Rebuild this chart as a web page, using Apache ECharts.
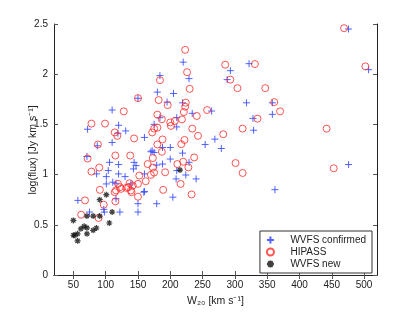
<!DOCTYPE html>
<html>
<head>
<meta charset="utf-8">
<script src="https://cdn.jsdelivr.net/npm/echarts@6/dist/echarts.min.js"></script>
<style>html,body{margin:0;padding:0;background:#fff;}#c{width:415px;height:312px;}</style>
</head>
<body>
<div id="c"></div>
<script>
const xTicks = [50,100,150,200,250,300,350,400,450,500];
const yTicks = [0,0.5,1,1.5,2,2.5];

const wvfsConfirmed = [
[476,2.45],[507,2.045],[476,1.10],[362,0.85],
[220,2.12],[293,2.035],[288,1.946],[322,2.105],[229,1.956],[205,1.808],[318,1.715],[358,1.715],[358,1.60],[328,1.56],[329,1.442],[264,1.633],[234,1.61],[219,1.715],[210,1.567],[210,1.475],[269,1.353],[254,1.30],[279,1.26],
[184,1.986],[180,1.821],[195,1.722],[110,1.643],[120,1.491],[131,1.435],[72,1.452],[119,1.412],[175,1.501],[184,1.567],
[150,1.76],[87,1.287],[110,1.32],[160,1.37],
[71,1.18],[106,1.122],[120,1.10],[144,1.122],[147,1.09],[143,1.056],[104,1.04],[120,1.007],[86,1.007],[101,0.98],[130,0.98],[111,0.924],[101,0.907],[116,0.914],[160,1.007],[170,1.228],[188,1.105],[175,1.22],[139,0.907],[160,0.832],
[219,1.214],[200,1.155],[172,1.237],[179,1.095],[210,1.04],[229,1.122],[224,0.996],[209,0.957],[240,0.957],[204,0.775],[179,0.71],
[57,0.743],[116,0.759],[150,0.71],[159,0.825],[97,0.654],[75,0.627],[98,0.627],[122,0.627],[150,0.627],[188,1.27],[200,1.27]
];

const hipass = [
[469,2.458],[502,2.078],[442,1.458],[453,1.063],
[223,2.243],[226,2.02],[230,1.854],[285,2.095],[331,2.101],[293,1.946],[304,1.861],[347,1.861],[361,1.722],[370,1.63],[335,1.557],[257,1.643],[312,1.458],[282,1.402],[234,1.458],[243,1.386],[241,1.584],[224,1.716],[223,1.676],[221,1.623],[218,1.55],[207,1.534],[200,1.52],
[184,1.94],[150,1.762],[182,1.742],[196,1.692],[128,1.63],[180,1.597],[187,1.551],[78,1.508],[99,1.508],[201,1.485],[180,1.468],[175,1.458],[114,1.42],[118,1.386],[172,1.42],
[144,1.36],[88,1.30],[115,1.19],[138,1.19],[72,1.16],[90,1.07],[78,1.03],[180,1.30],[188,1.35],[173,1.165],[165,1.105],[173,1.07],[175,1.02],[170,0.997],[152,0.99],[162,0.934],[150,0.908],[137,0.914],[132,0.868],[139,0.842],[116,0.842],[122,0.875],[91,0.848],
[187,1.227],[192,1.023],[211,1.105],[220,1.128],[228,1.072],[237,1.171],[216,0.907],[189,0.848],[233,0.802],[301,1.115],[312,1.016],[222,1.345],[217,1.303],
[119,0.908],[114,0.825],[124,0.858],[135,0.874],[142,0.891],[140,0.825],[150,0.78],[68,0.743],[97,0.70],[115,0.733],[62,0.601],[89,0.568]
];

const wvfsNew = [
[50,0.544],[56.5,0.41],[52,0.396],[50,0.396],[56.5,0.34],[61.6,0.46],[66.6,0.485],[71,0.47],[71,0.41],[71,0.587],[80.6,0.587],[90.8,0.587],[80.6,0.445],[85.7,0.468],[90.8,0.75],[101,0.80],[110,0.627],[105.6,0.518],[215,1.045]
];

const yTitle = 'log(flux) [Jy km s\u207B\u00B9]';
const xTitle = 'W\u2082\u2080 [km s\u207B\u00B9]';

const FONT = 'Liberation Sans';
const chart = echarts.init(document.getElementById('c'), null, {renderer:'canvas'});
const tickStyle = {show:true, inside:true, length:4, lineStyle:{color:'#555', width:1}};
const lineStyle = {show:true, lineStyle:{color:'#222', width:1}};
const labelStyle = {color:'#222', fontFamily:FONT, fontSize:10};

chart.setOption({
  animation:false,
  backgroundColor:'#fff',
  grid:{left:54, right:38, top:24, bottom:35},
  graphic:[{
    type:'text', x:33, y:150, rotation:Math.PI/2,
    style:{text:yTitle, fill:'#222', font:'10.5px "Liberation Sans"', align:'center', verticalAlign:'middle'}
  }],
  legend:{
    orient:'vertical', right:43, bottom:39,
    borderColor:'#333', borderWidth:1, backgroundColor:'#fff',
    padding:[3,6,3,6], itemGap:0, itemWidth:30, itemHeight:7,
    textStyle:{color:'#222', fontFamily:FONT, fontSize:10, lineHeight:12},
    data:['WVFS confirmed','HIPASS','WVFS new']
  },
  xAxis:[{
    type:'value', min:20, max:520,
    name:xTitle, nameLocation:'middle', nameGap:21,
    nameTextStyle:{color:'#222', fontFamily:FONT, fontSize:10.5},
    axisLine:lineStyle,
    axisTick:Object.assign({customValues:xTicks}, tickStyle),
    axisLabel:Object.assign({customValues:xTicks, margin:5}, labelStyle),
    splitLine:{show:false}
  },{
    type:'value', min:20, max:520, position:'top',
    axisLine:lineStyle,
    axisTick:Object.assign({customValues:xTicks}, tickStyle),
    axisLabel:{show:false}, splitLine:{show:false}
  }],
  yAxis:[{
    type:'value', min:0, max:2.5, interval:0.5,
    axisLine:lineStyle, axisTick:tickStyle,
    axisLabel:Object.assign({margin:6}, labelStyle),
    splitLine:{show:false}
  },{
    type:'value', min:0, max:2.5, interval:0.5, position:'right',
    axisLine:lineStyle, axisTick:tickStyle,
    axisLabel:{show:false}, splitLine:{show:false}
  }],
  series:[{
    name:'WVFS confirmed', type:'scatter', data:wvfsConfirmed,
    symbol:'path://M0,5L10,5M5,0L5,10', symbolSize:7,
    itemStyle:{color:'transparent', borderColor:'#3f52ff', borderWidth:1, opacity:0.9}
  },{
    name:'HIPASS', type:'scatter', data:hipass,
    symbol:'circle', symbolSize:7,
    itemStyle:{color:'transparent', borderColor:'#ff2a2a', borderWidth:1}
  },{
    name:'WVFS new', type:'scatter', data:wvfsNew,
    symbol:'path://M5,0L5,10M0,5L10,5M1.5,1.5L8.5,8.5M8.5,1.5L1.5,8.5', symbolSize:6,
    itemStyle:{color:'transparent', borderColor:'#111', borderWidth:1.2}
  }]
});
</script>
</body>
</html>
